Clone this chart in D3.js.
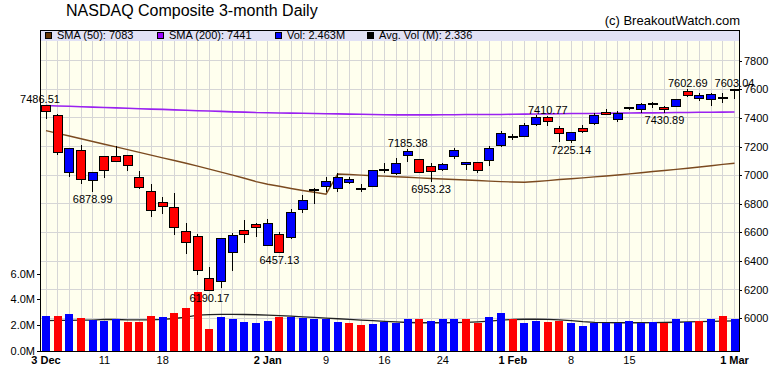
<!DOCTYPE html>
<html>
<head>
<meta charset="utf-8">
<script src="https://cdn.jsdelivr.net/npm/d3@7/dist/d3.min.js"></script>
<style>
body{margin:0;background:#fff;}
svg text{font-family:"Liberation Sans",Arial,sans-serif;fill:#000;}
</style>
</head>
<body>
<div class="content"></div>
<script>
var dates=["2018-12-03","2018-12-04","2018-12-06","2018-12-07","2018-12-10","2018-12-11","2018-12-12","2018-12-13","2018-12-14","2018-12-17",
	"2018-12-18","2018-12-19","2018-12-20","2018-12-21","2018-12-24","2018-12-26","2018-12-27","2018-12-28","2018-12-31",
	"2019-01-02","2019-01-03","2019-01-04","2019-01-07","2019-01-08","2019-01-09","2019-01-10","2019-01-11","2019-01-14","2019-01-15",
	"2019-01-16","2019-01-17","2019-01-18","2019-01-22","2019-01-23","2019-01-24","2019-01-25","2019-01-28","2019-01-29","2019-01-30","2019-01-31",
	"2019-02-01","2019-02-04","2019-02-05","2019-02-06","2019-02-07","2019-02-08","2019-02-11","2019-02-12","2019-02-13","2019-02-14",
	"2019-02-15","2019-02-19","2019-02-20","2019-02-21","2019-02-22","2019-02-25","2019-02-26","2019-02-27","2019-02-28","2019-03-01"];
var opens=[7486.51,7414,7017,7169,6962,7127,7132,7139,6985,6887,
	6810,6776,6608,6573,6277,6258,6461,6615,6652,
	6507,6587,6566,6757,6898,6920,6908,6948,6907,6924,
	7035,7013,7136,7111,7062,7041,7129,7076,7090,7099,7209,
	7264,7272,7356,7404,7323,7239,7328,7363,7440,7391,
	7471,7456,7494,7475,7479,7584,7535,7530,7538,7595];
var highs=[7486.51,7428,7188,7209,7020.52,7134,7202,7140,7029,6938,
	6850,6873,6664,6589,6361,6554,6598,6687,6663,
	6694,6605,6760,6859,6912,6989,7013,6985,6936,7030,
	7083,7120,7185.38,7111,7083,7087,7188,7092,7090,7204,7311,
	7286,7363,7420,7410.77,7344,7302,7351,7437,7463,7451,
	7479,7507,7514,7486,7535,7602.69,7572,7572,7572,7603.04];
var lows=[7395,7143,6985,6938,6878.99,6983,7090,7031,6901,6710,
	6731,6584,6447,6305,6190.17,6214,6333,6528,6570,
	6507,6457.13,6552,6738,6797,6885,6880,6936,6880,6924,
	7013,7001,7094,7020,6953.23,7029,7111,7036,7013,7066,7195,
	7246,7265,7346,7346,7232,7225.14,7293,7351,7421,7374,
	7456,7432,7468,7430.89,7479,7549,7521,7486,7507,7533];
var closes=[7441.51,7158,7188,6969,7020.52,7032,7098,7070,6911,6753,
	6784,6637,6528,6333,6193,6554,6580,6585,6636,
	6664,6463,6741,6824,6899,6957,6985,6971,6906,7029,
	7036,7083,7162,7020,7027,7076,7169,7090,7029,7188,7288,
	7263,7346,7404,7377,7293,7297,7307,7416,7426,7433,
	7472,7491,7495,7456,7530,7556,7553,7560,7537,7596];
var prevClose=7330.54;
var volumes=[2.71,2.71,2.87,2.58,2.40,2.33,2.51,2.25,2.25,2.71,
	2.63,2.92,3.33,4.57,1.71,2.63,2.48,2.25,2.17,
	2.33,2.63,2.63,2.56,2.48,2.48,2.25,2.17,2.02,2.09,
	2.25,2.17,2.48,2.48,2.33,2.48,2.48,2.48,2.17,2.63,2.95,
	2.48,2.17,2.33,2.25,2.33,2.17,1.94,2.17,2.17,2.17,
	2.33,2.17,2.25,2.17,2.48,2.25,2.33,2.48,2.71,2.463];
var sma50=[7311,7292,7273,7254,7235,7216,7197,7178,7159,7140,
	7121,7102,7083,7063,7042,7021,7000,6978,6955,
	6936,6922,6907,6893,6880,6867,7008,7004,7000,6996,
	6993,6989,6985,6981,6977,6973,6970,6966,6962,6958,6955,
	6952,6950,6956,6962,6969,6975,6981,6988,6994,7001,
	7009,7017,7025,7032,7040,7048,7057,7066,7075,7083];
var sma200=[7486,7483,7481,7478,7475,7472,7470,7467,7464,7461,
	7459,7456,7453,7450,7448,7445,7442,7440,7437,
	7436,7434,7433,7432,7430,7429,7428,7426,7425,7424,
	7422,7421,7421,7421,7421,7422,7422,7423,7423,7424,7424,
	7425,7426,7427,7428,7429,7430,7430,7431,7432,7433,
	7434,7435,7435,7436,7437,7438,7439,7439,7440,7441];
var avgVol=[2.36,2.37,2.38,2.39,2.40,2.45,2.44,2.42,2.41,2.42,
	2.45,2.52,2.62,2.78,2.82,2.84,2.84,2.83,2.81,
	2.78,2.75,2.70,2.65,2.60,2.55,2.50,2.45,2.40,2.35,
	2.30,2.25,2.21,2.19,2.19,2.19,2.20,2.22,2.26,2.32,2.39,
	2.44,2.46,2.46,2.45,2.41,2.35,2.27,2.22,2.20,2.19,
	2.19,2.19,2.20,2.21,2.23,2.25,2.27,2.29,2.31,2.336];
var priceTicks=[6000,6200,6400,6600,6800,7000,7200,7400,7600,7800];
var volTicks=[0,2,4,6];
var xTickDates=["2018-12-03","2018-12-11","2018-12-18","2019-01-02","2019-01-09","2019-01-16","2019-01-24","2019-02-01","2019-02-08","2019-02-15","2019-03-01"];
var xTickLabels=["3 Dec","11","18","2 Jan","9","16","24","1 Feb","8","15","1 Mar"];
var markHigh=["2018-12-03","2019-01-18","2019-02-06","2019-02-25","2019-03-01"];
var markLow=["2018-12-10","2018-12-24","2019-01-03","2019-01-23","2019-02-08","2019-02-21"];

drawChart();

function drawChart(){
	var width=780,height=376;
	var plot={left:40,right:739,top:30,bottom:351};
	var svg=d3.select(".content").append("svg")
		.attr("width",width)
		.attr("height",height);

	var x=d3.scalePoint().domain(dates).range([46,734.5]);
	var y=d3.scaleLinear().domain([6000,7800]).range([318.3,60.6]);
	var yv=d3.scaleLinear().domain([0,6]).range([plot.bottom,273.6]);

	//title
	svg.append("text").attr("x",66).attr("y",15.5)
		.style("font-size","16px")
		.text("NASDAQ Composite 3-month Daily");
	svg.append("text").attr("x",740).attr("y",25)
		.attr("text-anchor","end")
		.style("font-size","13px")
		.text("(c) BreakoutWatch.com");

	//plot background + legend band
	svg.append("rect").attr("x",plot.left).attr("y",plot.top)
		.attr("width",plot.right-plot.left).attr("height",plot.bottom-plot.top)
		.attr("fill","#ffffee");
	svg.append("rect").attr("x",plot.left).attr("y",plot.top)
		.attr("width",plot.right-plot.left).attr("height",11)
		.attr("fill","#e1e1f5");

	//grid
	var grid=svg.append("g").attr("stroke","#d6d6d6").attr("shape-rendering","crispEdges");
	grid.selectAll(".vg").data(dates).enter().append("line")
		.attr("x1",function(d){return x(d);}).attr("x2",function(d){return x(d);})
		.attr("y1",plot.top+11).attr("y2",plot.bottom);
	grid.selectAll(".hg").data(priceTicks).enter().append("line")
		.attr("x1",plot.left).attr("x2",plot.right)
		.attr("y1",function(d){return y(d);}).attr("y2",function(d){return y(d);});

	//average volume
	var avgLine=d3.line()
		.x(function(d,i){return x(dates[i]);})
		.y(function(d){return yv(d);});
	svg.append("path").datum(avgVol)
		.attr("d",avgLine)
		.attr("fill","none").attr("stroke","#222").attr("stroke-width",1.3);

	//volume bars
	svg.append("g").attr("shape-rendering","crispEdges")
		.selectAll("rect").data(volumes).enter().append("rect")
		.attr("x",function(d,i){return x(dates[i])-4;})
		.attr("width",8)
		.attr("y",function(d){return yv(d);})
		.attr("height",function(d){return plot.bottom-yv(d);})
		.attr("fill",function(d,i){
			var prev=i==0?prevClose:closes[i-1];
			return closes[i]>=prev?"#0000ff":"#ff0000";
		});

	//moving averages
	var priceLine=d3.line()
		.x(function(d,i){return x(dates[i]);})
		.y(function(d){return y(d);});
	svg.append("path").datum(sma200).attr("d",priceLine)
		.attr("fill","none").attr("stroke","#9a22f0").attr("stroke-width",1.6);
	svg.append("path").datum(sma50).attr("d",priceLine)
		.attr("fill","none").attr("stroke","#7b4a1f").attr("stroke-width",1.4);

	//candles
	var candles=svg.append("g").attr("shape-rendering","crispEdges");
	dates.forEach(function(d,i){
		var cx=x(d);
		candles.append("line")
			.attr("x1",cx).attr("x2",cx)
			.attr("y1",y(highs[i])).attr("y2",y(lows[i]))
			.attr("stroke","#000");
		if(Math.abs(opens[i]-closes[i])<5){
			candles.append("rect")
				.attr("x",cx-5).attr("y",y(closes[i])-1)
				.attr("width",10).attr("height",2)
				.attr("fill","#000");
		}else{
			var top=y(Math.max(opens[i],closes[i]));
			var bot=y(Math.min(opens[i],closes[i]));
			candles.append("rect")
				.attr("x",cx-4.5).attr("y",top)
				.attr("width",9).attr("height",bot-top)
				.attr("fill",closes[i]>opens[i]?"#0000ff":"#ff0000")
				.attr("stroke","#000");
		}
	});

	//high / low labels
	var fmt=d3.format(".2f");
	svg.selectAll(".hl").data(markHigh).enter().append("text")
		.attr("x",function(d,i){return x(d)-(i==0?6:0);})
		.attr("y",function(d){return y(highs[dates.indexOf(d)])-2;})
		.attr("text-anchor","middle").style("font-size","11px")
		.text(function(d){return fmt(highs[dates.indexOf(d)]);});
	svg.selectAll(".ll").data(markLow).enter().append("text")
		.attr("x",function(d){return x(d);})
		.attr("y",function(d){return y(lows[dates.indexOf(d)])+11;})
		.attr("text-anchor","middle").style("font-size","11px")
		.text(function(d){return fmt(lows[dates.indexOf(d)]);});

	//border
	svg.append("rect").attr("x",plot.left).attr("y",plot.top)
		.attr("width",plot.right-plot.left).attr("height",plot.bottom-plot.top)
		.attr("fill","none").attr("stroke","#000").attr("shape-rendering","crispEdges");

	//axes
	var right=svg.append("g").attr("transform","translate("+plot.right+",0)")
		.call(d3.axisRight(y).tickValues(priceTicks).tickSize(3).tickPadding(2).tickFormat(d3.format("d")));
	var left=svg.append("g").attr("transform","translate("+plot.left+",0)")
		.call(d3.axisLeft(yv).tickValues(volTicks).tickSize(3).tickPadding(2).tickFormat(function(d){return d.toFixed(1)+"M";}));
	[right,left].forEach(function(g){
		g.select(".domain").remove();
		g.attr("font-family",null).attr("font-size",null);
		g.selectAll("text").style("font-size","11px");
		g.selectAll("line").attr("stroke","#000").attr("shape-rendering","crispEdges");
	});

	svg.append("g").selectAll("text").data(xTickDates).enter().append("text")
		.attr("x",function(d){return x(d);})
		.attr("y",364)
		.attr("text-anchor","middle")
		.style("font-size","11px")
		.style("font-weight",function(d,i){return xTickLabels[i].indexOf(" ")>0?"bold":"normal";})
		.text(function(d,i){return xTickLabels[i];});

	//legend
	var legend=[
		{color:"#663300",text:"SMA (50): "+sma50[sma50.length-1],x:45},
		{color:"#9900ff",text:"SMA (200): "+sma200[sma200.length-1],x:157},
		{color:"#0000ff",text:"Vol: "+volumes[volumes.length-1]+"M",x:275},
		{color:"#000000",text:"Avg. Vol (M): "+avgVol[avgVol.length-1],x:367}
	];
	var lg=svg.append("g");
	lg.selectAll("rect").data(legend).enter().append("rect")
		.attr("x",function(d){return d.x+0.5;}).attr("y",32.5)
		.attr("width",6).attr("height",6)
		.attr("fill",function(d){return d.color;})
		.attr("stroke","#000");
	lg.selectAll("text").data(legend).enter().append("text")
		.attr("x",function(d){return d.x+12;}).attr("y",39)
		.style("font-size","11px")
		.text(function(d){return d.text;});
}
</script>
</body>
</html>
